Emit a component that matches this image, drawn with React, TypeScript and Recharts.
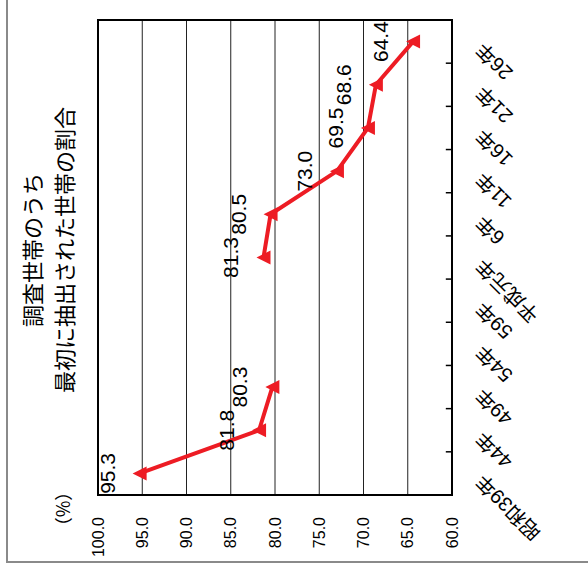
import React from 'react'
import {
  LineChart,
  Line,
  XAxis,
  YAxis,
  CartesianGrid,
  LabelList,
  ReferenceArea,
  ReferenceLine,
} from 'recharts'

const categories = ['昭和39年', '44年', '49年', '54年', '59年', '平成元年', '6年', '11年', '16年', '21年', '26年']
const shares: (number | null)[] = [95.3, 81.8, 80.3, null, null, 81.3, 80.5, 73.0, 69.5, 68.6, 64.4]
const valueTicks = [60, 65, 70, 75, 80, 85, 90, 95, 100]
const titleLines = ['調査世帯のうち', '最初に抽出された世帯の割合']
const unitLabel = '（%）'

const data = categories.map((name, i) => ({ x: i, name, share: shares[i] }))
const categoryTicks = categories.map((_, i) => i)
const boundaries = categories.slice(1).map((_, i) => i + 0.5)

const RED = '#ED1C24'
const FONT = "'Liberation Sans', 'Noto Sans CJK JP', sans-serif"

// chart is drawn upright, then the whole thing is turned 90deg to the left
const W = 579
const H = 588

// eslint-disable-next-line @typescript-eslint/no-explicit-any
function Triangle(props: any) {
  const { cx, cy } = props
  if (cx == null || cy == null) return <g />
  return (
    <polygon
      points={`${cx},${cy - 7} ${cx - 7},${cy + 7} ${cx + 7},${cy + 7}`}
      fill={RED}
    />
  )
}

// eslint-disable-next-line @typescript-eslint/no-explicit-any
function CategoryTick({ x, y, payload }: any) {
  return (
    <text
      x={x}
      y={y}
      textAnchor="end"
      transform={`rotate(-45 ${x} ${y})`}
      fontSize={20}
      fill="#000"
      fontFamily={FONT}
    >
      {categories[payload.value]}
    </text>
  )
}

export default function App() {
  return (
    <div
      style={{
        position: 'absolute',
        left: 0,
        top: 0,
        width: 588,
        height: 579,
        overflow: 'hidden',
        background: '#fff',
      }}
    >
      <div
        style={{
          position: 'absolute',
          left: 0,
          top: 0,
          width: W,
          height: H,
          transformOrigin: '0 0',
          transform: `translate(0px, ${W}px) rotate(-90deg)`,
          fontFamily: FONT,
        }}
      >
        <div
          style={{
            position: 'absolute',
            left: 16,
            top: 6,
            width: 700,
            height: 700,
            border: '2px solid #8a8a8a',
          }}
        />
        <div
          style={{
            position: 'absolute',
            left: 79,
            top: 18,
            width: 500,
            textAlign: 'center',
            fontSize: 22,
            lineHeight: '32px',
            color: '#000',
          }}
        >
          {titleLines.map((t) => (
            <div key={t}>{t}</div>
          ))}
        </div>
        <div
          style={{
            position: 'absolute',
            left: 30,
            top: 50,
            width: 80,
            textAlign: 'center',
            fontSize: 18,
            lineHeight: '24px',
            color: '#000',
            fontFamily: "'Noto Sans CJK JP', sans-serif",
          }}
        >
          {unitLabel}
        </div>
        <div style={{ position: 'absolute', left: 0, top: 0 }}>
          <LineChart
            width={W}
            height={H}
            data={data}
            margin={{ top: 98, right: 20, bottom: 0, left: 0 }}
          >
            <CartesianGrid vertical={false} stroke="#222" strokeWidth={1} />
            <XAxis
              type="number"
              dataKey="x"
              domain={[-0.5, 10.5]}
              ticks={categoryTicks}
              interval={0}
              height={136}
              axisLine={false}
              tickLine={false}
              tickSize={0}
              tickMargin={32}
              tick={<CategoryTick />}
            />
            <YAxis
              type="number"
              domain={[60, 100]}
              ticks={valueTicks}
              interval={0}
              width={84}
              axisLine={false}
              tickLine={false}
              tickSize={0}
              tickMargin={22}
              tickFormatter={(v: number) => v.toFixed(1)}
              tick={{ fontSize: 16, fill: '#000', fontFamily: FONT }}
            />
            <ReferenceArea
              x1={-0.5}
              x2={10.5}
              y1={60}
              y2={100}
              fill="none"
              stroke="#000"
              strokeWidth={2}
              ifOverflow="visible"
            />
            {boundaries.map((b) => (
              <ReferenceLine
                key={b}
                segment={[
                  { x: b, y: 60 },
                  { x: b, y: 60.7 },
                ]}
                stroke="#000"
                strokeWidth={1.5}
                ifOverflow="visible"
              />
            ))}
            <Line
              type="linear"
              dataKey="share"
              stroke={RED}
              strokeWidth={4}
              dot={<Triangle />}
              activeDot={false}
              connectNulls={false}
              isAnimationActive={false}
            >
              <LabelList
                dataKey="share"
                position="top"
                offset={25}
                formatter={(v: unknown) => (v == null ? '' : Number(v).toFixed(1))}
                fill="#000"
                fontSize={21}
                fontFamily={FONT}
              />
            </Line>
          </LineChart>
        </div>
      </div>
    </div>
  )
}
